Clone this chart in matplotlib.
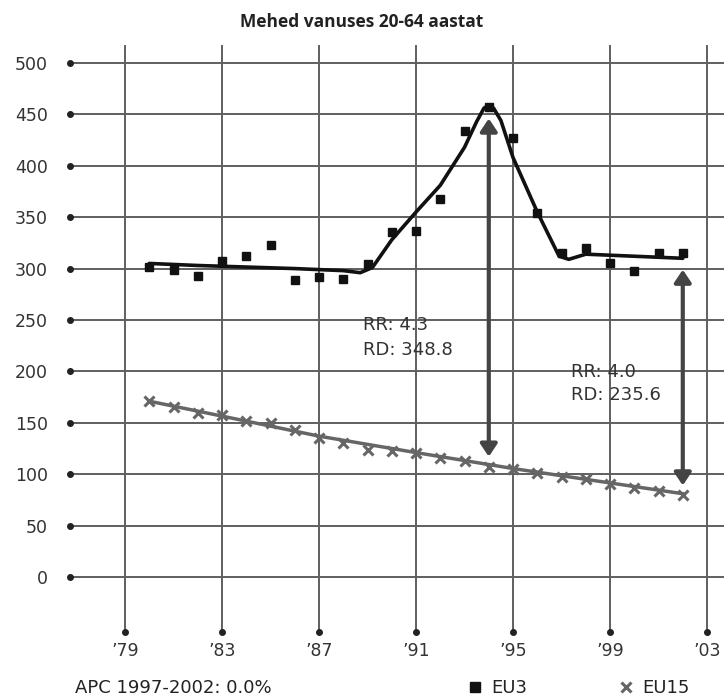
import numpy as np
import matplotlib
matplotlib.use("Agg")
import matplotlib.pyplot as plt
from matplotlib.lines import Line2D

# data
years = list(range(1980, 2003))
eu3 = [302, 299, 293, 307, 312, 323, 289, 292, 290, 304, 336, 337, 368,
       434, 457, 427, 354, 315, 320, 305, 298, 315, 315]
eu15 = [171.5, 165.7, 159.6, 157.7, 152.2, 149.7, 143.3, 135.6, 130.4, 123.4,
        122.8, 120.8, 115.4, 112.8, 106.7, 104.8, 101.0, 96.8, 95.2, 90.4,
        86.5, 84.0, 80.1]

# fitted trend lines
eu3_trend_x = [1980, 1982, 1984, 1986, 1988, 1988.7, 1989.2, 1990, 1991, 1992,
               1993, 1993.5, 1993.8, 1994.0, 1994.2, 1994.5, 1995, 1996, 1996.9,
               1997.3, 1998, 1999, 2000, 2001, 2002]
eu3_trend_y = [305, 303, 301.5, 300, 298, 296, 301, 328, 355, 381,
               418, 443, 456, 459, 456, 444, 408, 355, 312,
               309, 314, 313, 312, 311, 310]
eu15_trend_x = [1980, 1983, 1987, 1991, 1995, 1999, 2002]
eu15_trend_y = [171, 156.5, 137, 121, 105.5, 91.5, 81]

x_ticks = [1979, 1983, 1987, 1991, 1995, 1999, 2003]
x_labels = ["\u201979", "\u201983", "\u201987", "\u201991", "\u201995", "\u201999", "\u201903"]
y_ticks = [0, 50, 100, 150, 200, 250, 300, 350, 400, 450, 500]

arrows = [(1994, 117, 446), (2002, 89, 299)]
notes = [(1988.8, 245, "RR: 4.3"), (1988.8, 221, "RD: 348.8"),
         (1997.4, 199, "RR: 4.0"), (1997.4, 177, "RD: 235.6")]

fig = plt.figure(figsize=(7.24, 6.97), dpi=100)
ax = fig.add_axes([70 / 724, 1 - 632 / 697, 654 / 724, 586 / 697])
x0, x1 = 1976.73, 2003.7
y0, y1 = -53.5, 516.5
ax.set_xlim(x0, x1)
ax.set_ylim(y0, y1)
for s in ax.spines.values():
    s.set_visible(False)

grid_col = "#5f5f5f"
for yv in y_ticks:
    ax.plot([x0, x1], [yv, yv], color=grid_col, lw=1.4, zorder=1, clip_on=False)
for xv in x_ticks:
    ax.plot([xv, xv], [y0, y1], color=grid_col, lw=1.4, zorder=1, clip_on=False)
# tick dots
ax.plot([x0] * len(y_ticks), y_ticks, "o", ms=4, color="#222", clip_on=False, zorder=3)
ax.plot(x_ticks, [y0] * len(x_ticks), "o", ms=4, color="#222", clip_on=False, zorder=3)

ax.set_xticks(x_ticks)
ax.set_xticklabels(x_labels)
ax.set_yticks(y_ticks)
ax.tick_params(length=0, labelsize=12.5, colors="#333")
ax.tick_params(axis="y", pad=16)
ax.tick_params(axis="x", pad=7)

# EU15
ax.plot(eu15_trend_x, eu15_trend_y, color="#666", lw=2.5, zorder=4)
ax.plot(years, eu15, "x", color="#666", ms=7, mew=2.2, zorder=5)
# EU3
ax.plot(eu3_trend_x, eu3_trend_y, color="#111", lw=2.6, zorder=4,
        solid_joinstyle="round", solid_capstyle="round")
ax.plot(years, eu3, "s", color="#111", ms=6, zorder=5)

for xa, ya, yb in arrows:
    ax.annotate("", xy=(xa, yb), xytext=(xa, ya),
                arrowprops=dict(arrowstyle="<|-|>,head_length=0.75,head_width=0.5",
                                color="#444", lw=3, shrinkA=0, shrinkB=0), zorder=6)

for xt, yt, t in notes:
    ax.text(xt, yt, t, fontsize=13, color="#333", va="center", ha="left", zorder=7)

fig.text(0.5, 1 - 22 / 697, "Mehed vanuses 20-64 aastat", ha="center", va="center",
         fontsize=12.5, fontweight="bold", color="#222", family="Open Sans")

fig.text(75 / 724, 1 - 688 / 697, "APC 1997-2002: 0.0%", ha="left", va="center",
         fontsize=13, color="#222")
handles = [Line2D([], [], ls="none", marker="s", color="#111", ms=7),
           Line2D([], [], ls="none", marker="x", color="#666", ms=7, mew=2.2)]
fig.legend(handles, ["EU3", "EU15"], loc="center", ncol=2,
           bbox_to_anchor=(578 / 724, 1 - 688 / 697), frameon=False,
           fontsize=13, columnspacing=5.0, handletextpad=0.4, handlelength=1.0,
           labelcolor="#222")

fig.savefig("out.png", dpi=100)
